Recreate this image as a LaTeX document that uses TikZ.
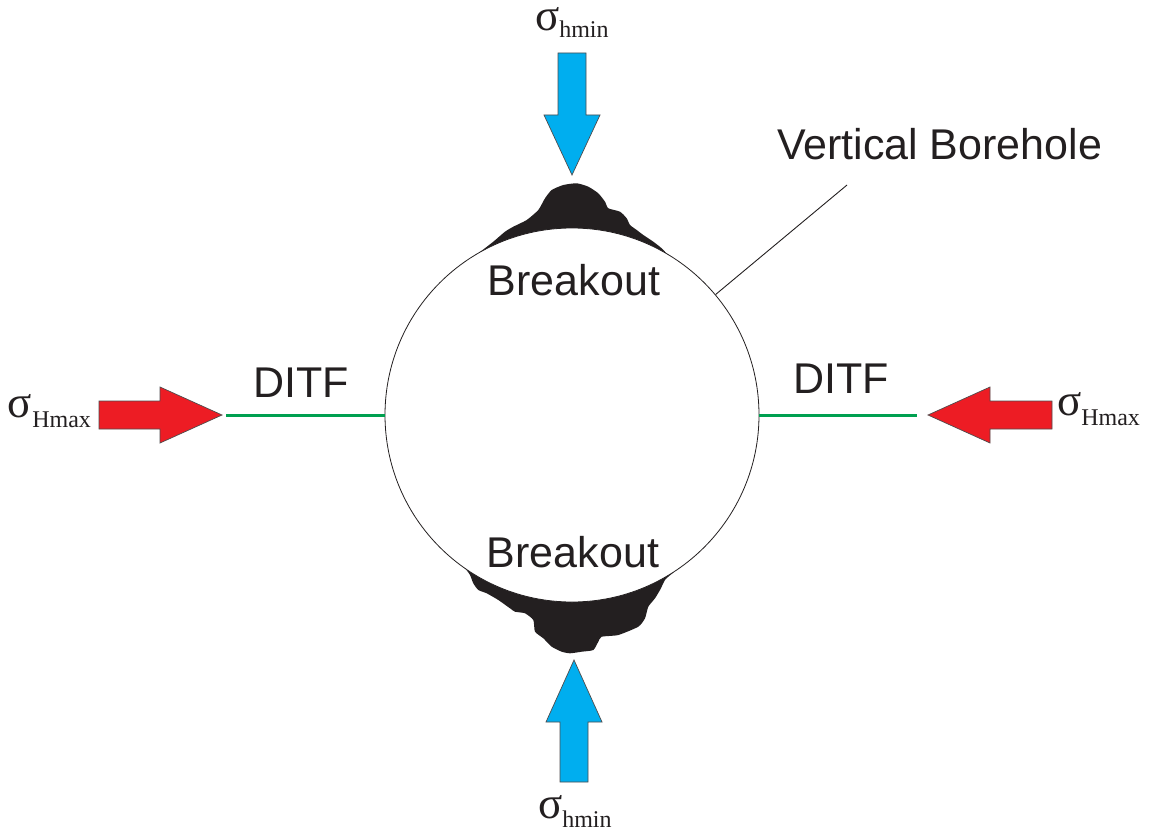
\documentclass[tikz,border=0pt]{standalone}
\usepackage{fontspec}
\setmainfont{Liberation Sans}
\newfontfamily\greekserif{Liberation Serif}
\definecolor{ink}{RGB}{35,31,32}
\definecolor{shminblue}{RGB}{0,174,239}
\definecolor{sHmaxred}{RGB}{237,28,36}
\definecolor{fracgreen}{RGB}{0,160,80}
\newcommand{\stresslabel}[2]{{\greekserif\fontsize{45}{45}\selectfont σ}\raisebox{#2}{\greekserif\fontsize{24}{24}\selectfont #1}}
\begin{document}
\begin{tikzpicture}[x=1pt,y=-1pt,
  lbl/.style={inner sep=0pt,outer sep=0pt,text=ink,font=\fontsize{43}{43}\selectfont},
  sig/.style={inner sep=0pt,outer sep=0pt,text=ink,anchor=base west,text height=22pt,text depth=11pt},
  stressarrow/.style={draw=ink!80,line width=0.7pt,line join=miter},
  ditf/.style={draw=fracgreen,line width=3pt},
  leader/.style={draw=ink,line width=0.9pt},
  breakout/.style={fill=ink}]
\useasboundingbox[fill=white] (0,0) rectangle (1153,832);

% breakouts (drawn first, the borehole covers their inner parts)
\fill[breakout] plot[smooth,tension=0.35] coordinates {
  (480,252) (493.3,241.7) (505,231.7) (513.3,226.7) (526.7,220) (538.3,210)
  (545,198.3) (551.7,190) (563.3,185) (576.7,183.3) (588.3,186.7) (598.3,193.3)
  (605,201.7) (608.3,208.3) (620,211.7) (626.7,218.3) (630,225) (636.7,230)
  (643.3,235) (653.3,241.7) (661.7,248.3) (667,254)}
  -- (620,270) -- (572,275) -- (525,270) -- cycle;
\fill[breakout] plot[smooth,tension=0.35] coordinates {
  (465,568) (470,575) (473.3,583.3) (478.3,590) (486.7,593.3) (498.3,600)
  (510,608.3) (515,611.7) (525,613.3) (533.3,620) (535,631.7) (543.3,638.3)
  (551.7,646.7) (561.7,651.7) (570,653.3) (581.7,651.7) (593.3,650) (598.3,641.7)
  (601.7,636.7) (618.3,635) (638.3,626.7) (645,618.3) (648.3,606.7) (655,598.3)
  (660,590) (665,580) (668.3,576.7) (674,572)}
  -- (625,560) -- (572,555) -- (515,560) -- cycle;

% borehole
\node[circle,draw=ink,fill=white,line width=0.8pt,minimum size=374pt,inner sep=0pt] (bore) at (572,415) {};

% stress arrows
\fill[shminblue,stressarrow] (558,53) -- (586,53) -- (586,115) -- (600,115) -- (572,175) -- (544,115) -- (558,115) -- cycle;
\fill[shminblue,stressarrow] (560,782) -- (588,782) -- (588,722) -- (602,722) -- (574,660) -- (546,722) -- (560,722) -- cycle;
\fill[sHmaxred,stressarrow] (99,401) -- (160,401) -- (160,387) -- (222,415) -- (160,443) -- (160,429) -- (99,429) -- cycle;
\fill[sHmaxred,stressarrow] (1052,401) -- (990,401) -- (990,387) -- (928,415) -- (990,443) -- (990,429) -- (1052,429) -- cycle;

% drilling-induced tensile fractures
\coordinate (fracL) at (226,415);
\coordinate (fracR) at (917,415);
\draw[ditf] (fracL) -- (bore.west);
\draw[ditf] (bore.east) -- (fracR);

% label leader
\coordinate (tag) at (847,185);
\draw[leader] (tag) -- (bore.40);

% texts
\node[lbl,anchor=base west] (vb) at (777,159) {Vertical Borehole};
\node[lbl,anchor=base] (bkt) at (574,295) {Breakout};
\node[lbl,anchor=base] (bkb) at (573,567) {Breakout};
\node[lbl,anchor=base] (ditfl) at (301,397) {DITF};
\node[lbl,anchor=base] (ditfr) at (841,393) {DITF};

\node[sig] (shtop) at (535,31) {\stresslabel{hmin}{-7pt}};
\node[sig] (shbot) at (538,818) {\stresslabel{hmin}{-9pt}};
\node[sig] (sHl) at (8,417) {\stresslabel{Hmax}{-10pt}};
\node[sig] (sHr) at (1057,415) {\stresslabel{Hmax}{-10pt}};
\end{tikzpicture}
\end{document}
